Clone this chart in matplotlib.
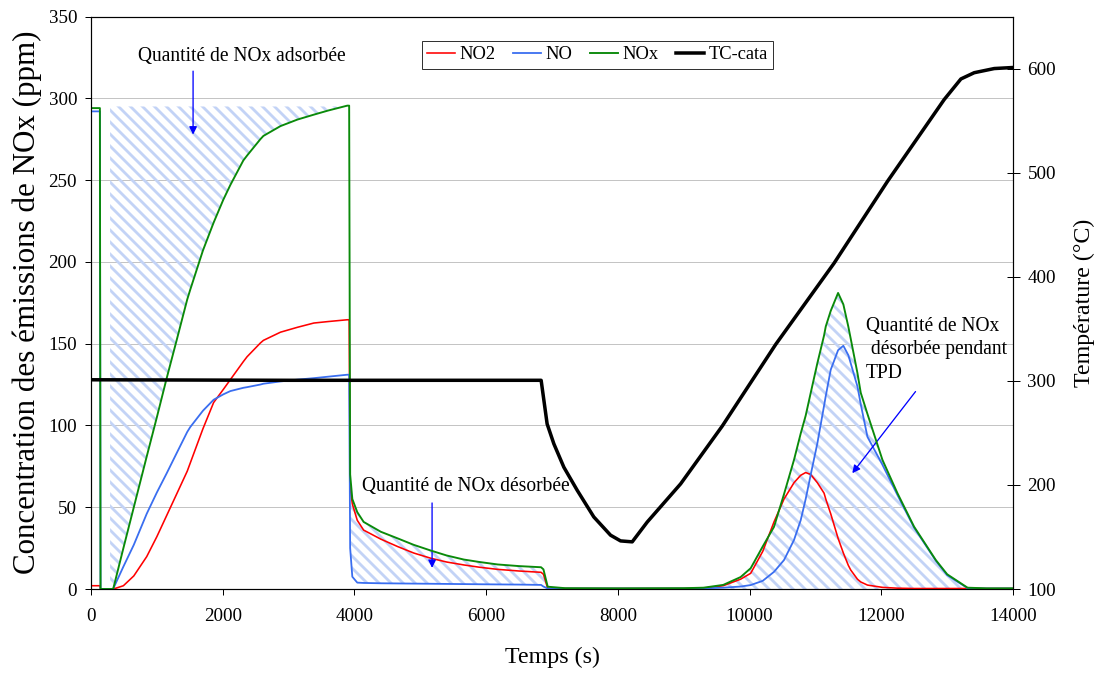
import numpy as np
import matplotlib
matplotlib.use("Agg")
import matplotlib.pyplot as plt
from matplotlib.lines import Line2D

# ---------------- data ----------------
time_s = [0, 135, 145, 290, 330, 340, 492, 650, 846, 1000, 1150, 1300, 1461, 1507, 1700,
          1862, 2009, 2116, 2313, 2370, 2572, 2618, 2877, 3135, 3384, 3600, 3891, 3920,
          3935, 3968, 4043, 4140, 4400, 4653, 4900, 5160, 5400, 5662, 5900, 6175, 6500,
          6834, 6870, 6935, 7200, 8000, 9000, 9300, 9600, 9864, 10017, 10200, 10371,
          10523, 10675, 10776, 10852, 10929, 11029, 11131, 11157, 11232, 11344, 11424,
          11499, 11536, 11638, 11688, 11790, 12017, 12245, 12498, 12828, 13000, 13310,
          13600, 14000]

nox_ppm = [294, 294, 0, 0, 0, 0.5, 25, 50, 81, 105, 129, 152, 177, 183, 207,
           224, 238, 247, 262, 265, 275, 277, 283, 287, 290, 292.5, 295.5, 295.5,
           70, 55, 47, 41, 35, 31, 27, 23.5, 20.5, 18, 16.5, 15, 14,
           13.3, 12, 1.4, 0.5, 0.4, 0.5, 0.8, 2.5, 7.3, 12.7, 26, 38,
           58, 79, 95, 106, 120, 138, 155, 160.5, 170, 181, 174,
           160.5, 153, 132, 120, 107, 79, 58.6, 38.1, 17.7, 9, 0.8,
           0.4, 0.4]

no_ppm = [292, 292, 0, 0, 0, 0.4, 13.7, 27, 46, 59, 70.8, 83, 96, 99, 109,
          115.7, 119, 121, 123, 123.4, 125, 125.5, 126.9, 128, 128.9, 129.8, 131, 131,
          25, 7.5, 3.9, 3.7, 3.5, 3.4, 3.3, 3.2, 3.1, 3.0, 2.9, 2.8, 2.7,
          2.5, 1.5, 0.3, 0.3, 0.3, 0.3, 0.4, 0.8, 1.5, 2.4, 5, 10.5,
          17.7, 30, 42, 55, 70, 89, 112, 118, 134, 146, 148.7,
          143, 138, 123.8, 113, 93, 76, 57.5, 37.5, 17.3, 8.5, 0.5,
          0.3, 0.3]

no2_ppm = [2, 2, 0, 0, 0, 0, 2, 8, 19.8, 32, 45, 58, 72, 77, 98,
           114, 122, 128, 139, 142, 150.4, 152, 157, 160, 162.6, 163.5, 164.6, 164.6,
           62, 52, 42, 36, 30.5, 26, 22, 18.8, 16.5, 14.7, 13.3, 12, 11,
           10.2, 9, 0.3, 0.3, 0.3, 0.3, 0.5, 2, 6, 9.6, 23, 41,
           55, 65, 69.5, 71.2, 70, 65, 58.6, 55, 46, 31, 22,
           14.5, 11.6, 6, 4.3, 2.4, 1, 0.5, 0.3, 0.3, 0.3, 0.3,
           0.3, 0.3]

temp_time_s = [0, 3000, 6835, 6926, 7028, 7180, 7383, 7635, 7889, 8041, 8218, 8447,
               8953, 9586, 10397, 11283, 12094, 12955, 13209, 13411, 13715, 14000]
temp_c = [301, 300.5, 300.5, 258.6, 239.5, 217, 194.8, 169.2, 151.7, 146.2, 145.3, 164.4,
          201, 256.6, 335, 413, 491.6, 570.2, 590, 596, 600, 601]

x_ticks = [0, 2000, 4000, 6000, 8000, 10000, 12000, 14000]
y_ticks = [0, 50, 100, 150, 200, 250, 300, 350]
t_ticks = [100, 200, 300, 400, 500, 600]
adsorbed_level = 295

# ---------------- style ----------------
DPI = 72
plt.rcParams['font.family'] = ['Liberation Serif', 'DejaVu Serif']
plt.rcParams['hatch.linewidth'] = 2.8
plt.rcParams['hatch.color'] = '#c3d3f6'

RED = '#ff0000'
BLUE = '#3a6ef0'
GREEN = '#0a8a0a'
HATCH = '#c3d3f6'
HATCH_PAT = '\\\\'
ARROW = '#0000ff'

fig = plt.figure(figsize=(1102 / DPI, 675 / DPI), dpi=DPI)
ax = fig.add_axes([91 / 1102, 1 - 589 / 675, (1013 - 91) / 1102, (589 - 16.5) / 675])

t = np.array(time_s, dtype=float)
nox = np.array(nox_ppm, dtype=float)
no = np.array(no_ppm, dtype=float)
no2 = np.array(no2_ppm, dtype=float)

# hatched areas
m1 = (t >= 290) & (t <= 3920)
ax.fill_between(t[m1], np.minimum(nox[m1], adsorbed_level), adsorbed_level,
                facecolor='none', edgecolor=HATCH, linewidth=0, hatch=HATCH_PAT, zorder=1)
m2 = (t >= 3935) & (t <= 6935)
ax.fill_between(t[m2], no[m2], nox[m2], facecolor='none', edgecolor=HATCH,
                linewidth=0, hatch=HATCH_PAT, zorder=1)
m3 = (t >= 9600) & (t <= 13310)
ax.fill_between(t[m3], 0, nox[m3], facecolor='none', edgecolor=HATCH,
                linewidth=0, hatch=HATCH_PAT, zorder=1)

ax.plot(t, no2, color=RED, lw=1.6, zorder=3)
ax.plot(t, no, color=BLUE, lw=1.8, zorder=3)
ax.plot(t, nox, color=GREEN, lw=1.9, zorder=4)

ax.set_xlim(0, 14000)
ax.set_ylim(0, 350)
ax.set_xticks(x_ticks)
ax.set_yticks(y_ticks)
ax.yaxis.grid(True, color='#c4c4c4', lw=1.0)
ax.set_axisbelow(True)
ax.tick_params(axis='both', direction='out', length=6, width=1, labelsize=19)
ax.tick_params(axis='x', pad=13)
ax.tick_params(axis='y', right=False, pad=8)
for s in ax.spines.values():
    s.set_linewidth(1.1)
ax.set_xlabel('Temps (s)', fontsize=24, labelpad=22)
ax.set_ylabel('Concentration des émissions de NOx (ppm)', fontsize=31, labelpad=6)

ax2 = ax.twinx()
ax2.plot(temp_time_s, temp_c, color='black', lw=3.5, zorder=5)
ax2.set_ylim(100, 650)
ax2.set_yticks(t_ticks)
ax2.tick_params(axis='y', direction='inout', length=13, width=1, labelsize=19, pad=8)
ax2.set_ylabel('Température (°C)', fontsize=24, labelpad=18)
for s in ax2.spines.values():
    s.set_linewidth(1.1)

# annotations
ax.text(2295, 325.4, 'Quantité de NOx adsorbée', fontsize=19.5, ha='center', va='center')
ax.annotate('', xy=(1550, 277.8), xytext=(1550, 316.6),
            arrowprops=dict(arrowstyle='-|>', color=ARROW, lw=1.3, mutation_scale=16,
                            shrinkA=0, shrinkB=0))
ax.text(4119, 62.4, 'Quantité de NOx désorbée', fontsize=19.5, ha='left', va='center')
ax.annotate('', xy=(5179, 12.9), xytext=(5179, 52.6),
            arrowprops=dict(arrowstyle='-|>', color=ARROW, lw=1.3, mutation_scale=16,
                            shrinkA=0, shrinkB=0))
ax.text(11765, 146.3, 'Quantité de NOx\n désorbée pendant\nTPD', fontsize=19.5,
        ha='left', va='center', linespacing=1.32)
ax.annotate('', xy=(11560, 70.8), xytext=(12520, 120.7),
            arrowprops=dict(arrowstyle='-|>', color=ARROW, lw=1.3, mutation_scale=16,
                            shrinkA=0, shrinkB=0))

handles = [Line2D([], [], color=RED, lw=1.6),
           Line2D([], [], color=BLUE, lw=1.8),
           Line2D([], [], color=GREEN, lw=1.9),
           Line2D([], [], color='black', lw=3.5)]
leg = ax2.legend(handles, ['NO2', 'NO', 'NOx', 'TC-cata'], loc='upper left',
                 bbox_to_anchor=(0.3587, 0.9577), borderaxespad=0, ncol=4,
                 fontsize=18.5, frameon=True, fancybox=False, shadow=False,
                 handlelength=1.5, handletextpad=0.25, columnspacing=0.95,
                 borderpad=0.3)
leg.get_frame().set_edgecolor('black')
leg.get_frame().set_linewidth(1.0)

fig.savefig('out.png', dpi=DPI)
